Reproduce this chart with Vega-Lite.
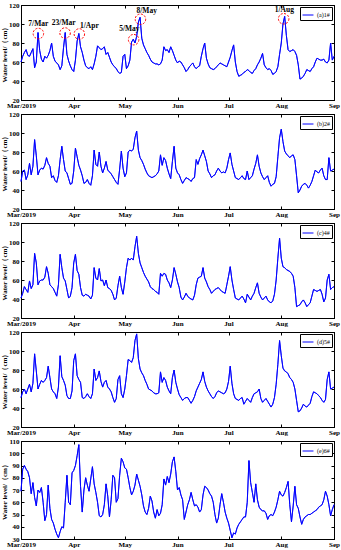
{
"$schema":"https://vega.github.io/schema/vega-lite/v6.json",
"padding":{"left":0,"top":0,"right":1,"bottom":0},
"bounds":"flush",
"spacing":14,
"data":{"values":[
{"t":"2019/3/1","a":60,"b":49,"c":41,"d":51,"e":69},
{"t":"2019/3/2","a":66,"b":60,"c":46,"d":57,"e":87},
{"t":"2019/3/3","a":70,"b":61,"c":53,"d":60,"e":90},
{"t":"2019/3/4","a":73,"b":51,"c":50,"d":55,"e":87},
{"t":"2019/3/5","a":67,"b":56,"c":47,"d":60,"e":85},
{"t":"2019/3/6","a":66,"b":68,"c":59,"d":65,"e":80},
{"t":"2019/3/7","a":70,"b":56,"c":51,"d":57,"e":67},
{"t":"2019/3/8","a":74,"b":65,"c":55,"d":66,"e":76},
{"t":"2019/3/9","a":54,"b":93,"c":88,"d":97,"e":64},
{"t":"2019/3/10","a":60,"b":76,"c":78,"d":79,"e":57},
{"t":"2019/3/11","a":91,"b":56,"c":55,"d":60,"e":70},
{"t":"2019/3/12","a":72,"b":61,"c":59,"d":65,"e":68},
{"t":"2019/3/13","a":63,"b":63,"c":60,"d":69,"e":72},
{"t":"2019/3/14","a":60,"b":62,"c":60,"d":67,"e":60},
{"t":"2019/3/15","a":66,"b":66,"c":63,"d":69,"e":45},
{"t":"2019/3/16","a":64,"b":74,"c":74,"d":72,"e":50},
{"t":"2019/3/17","a":67,"b":68,"c":67,"d":84,"e":74},
{"t":"2019/3/18","a":72,"b":65,"c":55,"d":72,"e":55},
{"t":"2019/3/19","a":80,"b":53,"c":53,"d":60,"e":46},
{"t":"2019/3/20","a":66,"b":55,"c":51,"d":57,"e":43},
{"t":"2019/3/21","a":61,"b":50,"c":47,"d":55,"e":38},
{"t":"2019/3/22","a":59,"b":48,"c":43,"d":50,"e":34},
{"t":"2019/3/23","a":57,"b":55,"c":55,"d":62,"e":31},
{"t":"2019/3/24","a":52,"b":72,"c":87,"d":95,"e":36},
{"t":"2019/3/25","a":56,"b":86,"c":73,"d":73,"e":40},
{"t":"2019/3/26","a":75,"b":72,"c":62,"d":69,"e":39},
{"t":"2019/3/27","a":91,"b":60,"c":59,"d":64,"e":60},
{"t":"2019/3/28","a":68,"b":58,"c":50,"d":53,"e":82},
{"t":"2019/3/29","a":61,"b":52,"c":41,"d":50,"e":60},
{"t":"2019/3/30","a":56,"b":46,"c":43,"d":50,"e":58},
{"t":"2019/3/31","a":52,"b":47,"c":52,"d":58,"e":84},
{"t":"2019/4/1","a":50,"b":60,"c":78,"d":90,"e":86},
{"t":"2019/4/2","a":62,"b":84,"c":87,"d":97,"e":90},
{"t":"2019/4/3","a":82,"b":75,"c":70,"d":74,"e":98},
{"t":"2019/4/4","a":90,"b":66,"c":66,"d":70,"e":107},
{"t":"2019/4/5","a":76,"b":61,"c":52,"d":67,"e":73},
{"t":"2019/4/6","a":70,"b":55,"c":44,"d":51,"e":52},
{"t":"2019/4/7","a":62,"b":47,"c":43,"d":50,"e":70},
{"t":"2019/4/8","a":56,"b":48,"c":45,"d":52,"e":80},
{"t":"2019/4/9","a":54,"b":51,"c":44,"d":55,"e":74},
{"t":"2019/4/10","a":53,"b":47,"c":43,"d":52,"e":69},
{"t":"2019/4/11","a":55,"b":45,"c":40,"d":50,"e":79},
{"t":"2019/4/12","a":52,"b":55,"c":44,"d":55,"e":89},
{"t":"2019/4/13","a":58,"b":82,"c":73,"d":81,"e":75},
{"t":"2019/4/14","a":66,"b":67,"c":62,"d":69,"e":68},
{"t":"2019/4/15","a":77,"b":65,"c":60,"d":72,"e":60},
{"t":"2019/4/16","a":75,"b":80,"c":72,"d":79,"e":49},
{"t":"2019/4/17","a":73,"b":65,"c":59,"d":68,"e":48},
{"t":"2019/4/18","a":74,"b":58,"c":60,"d":62,"e":50},
{"t":"2019/4/19","a":76,"b":63,"c":54,"d":67,"e":58},
{"t":"2019/4/20","a":68,"b":70,"c":60,"d":69,"e":75},
{"t":"2019/4/21","a":70,"b":61,"c":52,"d":62,"e":65},
{"t":"2019/4/22","a":65,"b":59,"c":51,"d":60,"e":48},
{"t":"2019/4/23","a":60,"b":57,"c":49,"d":57,"e":62},
{"t":"2019/4/24","a":57,"b":54,"c":45,"d":51,"e":82},
{"t":"2019/4/25","a":55,"b":51,"c":39,"d":46,"e":80},
{"t":"2019/4/26","a":53,"b":48,"c":41,"d":50,"e":60},
{"t":"2019/4/27","a":50,"b":46,"c":54,"d":70,"e":63},
{"t":"2019/4/28","a":48,"b":62,"c":64,"d":74,"e":82},
{"t":"2019/4/29","a":49,"b":81,"c":52,"d":55,"e":96},
{"t":"2019/4/30","a":66,"b":63,"c":45,"d":51,"e":93},
{"t":"2019/5/1","a":68,"b":54,"c":58,"d":60,"e":88},
{"t":"2019/5/2","a":53,"b":58,"c":73,"d":74,"e":87},
{"t":"2019/5/3","a":56,"b":80,"c":83,"d":91,"e":80},
{"t":"2019/5/4","a":62,"b":82,"c":81,"d":90,"e":72},
{"t":"2019/5/5","a":81,"b":81,"c":83,"d":88,"e":66},
{"t":"2019/5/6","a":84,"b":83,"c":81,"d":93,"e":69},
{"t":"2019/5/7","a":80,"b":95,"c":95,"d":111,"e":74},
{"t":"2019/5/8","a":87,"b":102,"c":106,"d":118,"e":83},
{"t":"2019/5/9","a":102,"b":82,"c":88,"d":92,"e":78},
{"t":"2019/5/10","a":107,"b":74,"c":78,"d":81,"e":73},
{"t":"2019/5/11","a":85,"b":71,"c":73,"d":77,"e":66},
{"t":"2019/5/12","a":78,"b":67,"c":68,"d":74,"e":57},
{"t":"2019/5/13","a":74,"b":62,"c":64,"d":69,"e":52},
{"t":"2019/5/14","a":70,"b":58,"c":61,"d":65,"e":50},
{"t":"2019/5/15","a":67,"b":55,"c":58,"d":60,"e":55},
{"t":"2019/5/16","a":63,"b":54,"c":53,"d":59,"e":65},
{"t":"2019/5/17","a":60,"b":53,"c":51,"d":58,"e":61},
{"t":"2019/5/18","a":59,"b":54,"c":50,"d":56,"e":52},
{"t":"2019/5/19","a":58,"b":55,"c":48,"d":55,"e":47},
{"t":"2019/5/20","a":58,"b":57,"c":47,"d":55,"e":54},
{"t":"2019/5/21","a":57,"b":60,"c":45,"d":56,"e":49},
{"t":"2019/5/22","a":58,"b":77,"c":67,"d":78,"e":51},
{"t":"2019/5/23","a":62,"b":66,"c":64,"d":67,"e":58},
{"t":"2019/5/24","a":76,"b":74,"c":67,"d":72,"e":79},
{"t":"2019/5/25","a":72,"b":71,"c":66,"d":69,"e":74},
{"t":"2019/5/26","a":73,"b":63,"c":60,"d":62,"e":81},
{"t":"2019/5/27","a":70,"b":57,"c":57,"d":58,"e":76},
{"t":"2019/5/28","a":76,"b":52,"c":52,"d":55,"e":83},
{"t":"2019/5/29","a":72,"b":70,"c":60,"d":72,"e":93},
{"t":"2019/5/30","a":67,"b":86,"c":73,"d":80,"e":97},
{"t":"2019/5/31","a":62,"b":63,"c":66,"d":67,"e":85},
{"t":"2019/6/1","a":59,"b":58,"c":58,"d":60,"e":70},
{"t":"2019/6/2","a":61,"b":56,"c":52,"d":54,"e":72},
{"t":"2019/6/3","a":60,"b":51,"c":42,"d":51,"e":66},
{"t":"2019/6/4","a":57,"b":47,"c":39,"d":48,"e":62},
{"t":"2019/6/5","a":54,"b":50,"c":42,"d":50,"e":46},
{"t":"2019/6/6","a":50,"b":53,"c":46,"d":51,"e":52},
{"t":"2019/6/7","a":52,"b":52,"c":43,"d":51,"e":58},
{"t":"2019/6/8","a":55,"b":51,"c":41,"d":48,"e":62},
{"t":"2019/6/9","a":57,"b":49,"c":40,"d":45,"e":68},
{"t":"2019/6/10","a":59,"b":52,"c":39,"d":48,"e":62},
{"t":"2019/6/11","a":55,"b":53,"c":44,"d":52,"e":57},
{"t":"2019/6/12","a":53,"b":72,"c":55,"d":58,"e":58},
{"t":"2019/6/13","a":55,"b":67,"c":62,"d":62,"e":56},
{"t":"2019/6/14","a":56,"b":73,"c":63,"d":66,"e":52},
{"t":"2019/6/15","a":66,"b":77,"c":64,"d":70,"e":54},
{"t":"2019/6/16","a":74,"b":82,"c":73,"d":78,"e":66},
{"t":"2019/6/17","a":80,"b":76,"c":62,"d":68,"e":73},
{"t":"2019/6/18","a":64,"b":70,"c":58,"d":62,"e":72},
{"t":"2019/6/19","a":58,"b":60,"c":53,"d":58,"e":70},
{"t":"2019/6/20","a":54,"b":57,"c":50,"d":55,"e":67},
{"t":"2019/6/21","a":53,"b":53,"c":46,"d":52,"e":65},
{"t":"2019/6/22","a":52,"b":55,"c":48,"d":50,"e":60},
{"t":"2019/6/23","a":53,"b":56,"c":50,"d":52,"e":50},
{"t":"2019/6/24","a":55,"b":60,"c":51,"d":56,"e":43},
{"t":"2019/6/25","a":57,"b":63,"c":52,"d":58,"e":47},
{"t":"2019/6/26","a":59,"b":60,"c":50,"d":57,"e":58},
{"t":"2019/6/27","a":58,"b":58,"c":48,"d":56,"e":67},
{"t":"2019/6/28","a":57,"b":59,"c":47,"d":55,"e":60},
{"t":"2019/6/29","a":56,"b":58,"c":46,"d":56,"e":52},
{"t":"2019/6/30","a":55,"b":63,"c":55,"d":60,"e":47},
{"t":"2019/7/1","a":60,"b":72,"c":64,"d":68,"e":43},
{"t":"2019/7/2","a":65,"b":79,"c":74,"d":84,"e":37},
{"t":"2019/7/3","a":72,"b":67,"c":60,"d":66,"e":31},
{"t":"2019/7/4","a":78,"b":60,"c":50,"d":55,"e":35},
{"t":"2019/7/5","a":60,"b":53,"c":41,"d":50,"e":34},
{"t":"2019/7/6","a":50,"b":52,"c":40,"d":49,"e":39},
{"t":"2019/7/7","a":45,"b":51,"c":39,"d":48,"e":42},
{"t":"2019/7/8","a":46,"b":53,"c":41,"d":50,"e":44},
{"t":"2019/7/9","a":47,"b":55,"c":43,"d":51,"e":46},
{"t":"2019/7/10","a":49,"b":52,"c":40,"d":44,"e":48},
{"t":"2019/7/11","a":50,"b":51,"c":36,"d":47,"e":48},
{"t":"2019/7/12","a":52,"b":60,"c":45,"d":50,"e":60},
{"t":"2019/7/13","a":51,"b":51,"c":42,"d":48,"e":94},
{"t":"2019/7/14","a":49,"b":53,"c":39,"d":46,"e":76},
{"t":"2019/7/15","a":48,"b":55,"c":43,"d":51,"e":68},
{"t":"2019/7/16","a":51,"b":62,"c":46,"d":55,"e":60},
{"t":"2019/7/17","a":53,"b":68,"c":52,"d":56,"e":75},
{"t":"2019/7/18","a":57,"b":77,"c":57,"d":57,"e":62},
{"t":"2019/7/19","a":60,"b":65,"c":46,"d":60,"e":56},
{"t":"2019/7/20","a":64,"b":58,"c":42,"d":50,"e":54},
{"t":"2019/7/21","a":69,"b":54,"c":39,"d":46,"e":53},
{"t":"2019/7/22","a":57,"b":51,"c":41,"d":48,"e":53},
{"t":"2019/7/23","a":54,"b":53,"c":43,"d":50,"e":51},
{"t":"2019/7/24","a":52,"b":55,"c":39,"d":47,"e":46},
{"t":"2019/7/25","a":53,"b":48,"c":37,"d":44,"e":49},
{"t":"2019/7/26","a":51,"b":44,"c":36,"d":41,"e":50},
{"t":"2019/7/27","a":47,"b":46,"c":38,"d":44,"e":49},
{"t":"2019/7/28","a":48,"b":47,"c":45,"d":51,"e":52},
{"t":"2019/7/29","a":50,"b":54,"c":60,"d":65,"e":56},
{"t":"2019/7/30","a":55,"b":75,"c":83,"d":86,"e":62},
{"t":"2019/7/31","a":68,"b":95,"c":104,"d":111,"e":69},
{"t":"2019/8/1","a":80,"b":104,"c":83,"d":95,"e":66},
{"t":"2019/8/2","a":100,"b":91,"c":74,"d":82,"e":65},
{"t":"2019/8/3","a":108,"b":81,"c":73,"d":79,"e":68},
{"t":"2019/8/4","a":88,"b":78,"c":71,"d":78,"e":72},
{"t":"2019/8/5","a":73,"b":76,"c":70,"d":76,"e":77},
{"t":"2019/8/6","a":71,"b":74,"c":69,"d":72,"e":58},
{"t":"2019/8/7","a":72,"b":76,"c":67,"d":70,"e":44},
{"t":"2019/8/8","a":73,"b":77,"c":64,"d":67,"e":57},
{"t":"2019/8/9","a":71,"b":72,"c":52,"d":60,"e":73},
{"t":"2019/8/10","a":67,"b":55,"c":32,"d":48,"e":58},
{"t":"2019/8/11","a":57,"b":37,"c":33,"d":36,"e":55},
{"t":"2019/8/12","a":42,"b":40,"c":34,"d":37,"e":48},
{"t":"2019/8/13","a":43,"b":44,"c":37,"d":40,"e":42},
{"t":"2019/8/14","a":45,"b":46,"c":39,"d":44,"e":46},
{"t":"2019/8/15","a":48,"b":47,"c":36,"d":42,"e":48},
{"t":"2019/8/16","a":52,"b":45,"c":32,"d":41,"e":49},
{"t":"2019/8/17","a":51,"b":42,"c":34,"d":43,"e":50},
{"t":"2019/8/18","a":50,"b":45,"c":36,"d":45,"e":50},
{"t":"2019/8/19","a":53,"b":49,"c":43,"d":52,"e":51},
{"t":"2019/8/20","a":55,"b":55,"c":50,"d":57,"e":52},
{"t":"2019/8/21","a":60,"b":61,"c":49,"d":56,"e":53},
{"t":"2019/8/22","a":64,"b":59,"c":48,"d":55,"e":54},
{"t":"2019/8/23","a":63,"b":58,"c":49,"d":53,"e":56},
{"t":"2019/8/24","a":62,"b":61,"c":50,"d":51,"e":57},
{"t":"2019/8/25","a":62,"b":63,"c":45,"d":48,"e":58},
{"t":"2019/8/26","a":63,"b":55,"c":37,"d":46,"e":62},
{"t":"2019/8/27","a":60,"b":51,"c":41,"d":49,"e":69},
{"t":"2019/8/28","a":59,"b":51,"c":60,"d":70,"e":65},
{"t":"2019/8/29","a":62,"b":74,"c":66,"d":78,"e":58},
{"t":"2019/8/30","a":80,"b":60,"c":50,"d":60,"e":49},
{"t":"2019/8/31","a":62,"b":61,"c":52,"d":61,"e":54},
{"t":"2019/9/1","a":66,"b":62,"c":53,"d":62,"e":58}
]},
"resolve":{"scale":{"color":"independent"},"legend":{"color":"independent"}},
"vconcat":[
{"width":313,"height":95,
 "resolve":{"axis":{"x":"independent","y":"independent"}},
 "layer":[
  {"mark":{"type":"line","strokeWidth":0.9},
   "encoding":{
    "x":{"field":"t","type":"temporal","scale":{"domain":[{"year":2019,"month":3,"date":1},{"year":2019,"month":9,"date":1}],"nice":false},
         "axis":{"title":null,"labelPadding":4,"tickCount":{"interval":"month","step":1},"labelFlush":false,"labelOverlap":false,"labelExpr":"month(datum.value)==2 ? 'Mar/2019' : timeFormat(datum.value,'%b')"}},
    "y":{"field":"a","type":"quantitative","scale":{"domain":[20,120],"nice":false},"axis":{"values":[20,40,60,80,100,120],"title":"Water level/（cm）"}},
    "color":{"datum":"(a)1#","type":"nominal","scale":{"range":["#0000ff"]}}}},
  {"mark":{"type":"line","strokeWidth":0.9,"color":"#0000ff"},
   "encoding":{
    "x":{"field":"t","type":"temporal","axis":{"orient":"top","labels":false,"title":null,"tickCount":{"interval":"month","step":1}}},
    "y":{"field":"a","type":"quantitative","axis":{"orient":"right","labels":false,"title":null,"values":[20,40,60,80,100,120]}}}},
  {"data":{"values":[
    {"t":"2019/3/11 05:00","v":90},
    {"t":"2019/3/26 22:00","v":90.5},
    {"t":"2019/4/4 07:00","v":89.5},
    {"t":"2019/5/6 05:00","v":83.5},
    {"t":"2019/5/10 05:00","v":105},
    {"t":"2019/8/2 10:00","v":105.5}]},
   "mark":{"type":"point","shape":"circle","filled":false,"color":"#ff0000","strokeWidth":1,"strokeDash":[2,1.5],"size":110,"opacity":1},
   "encoding":{"x":{"field":"t","type":"temporal","axis":null},"y":{"field":"v","type":"quantitative","axis":null}}},
  {"data":{"values":[
    {"t":"2019/3/11 05:00","v":100.5,"label":"7/Mar"},
    {"t":"2019/3/26 02:00","v":101,"label":"23/Mar"},
    {"t":"2019/4/10 05:00","v":97.5,"label":"1/Apr"},
    {"t":"2019/5/3 17:00","v":94.5,"label":"5/May"},
    {"t":"2019/5/13 22:00","v":113.5,"label":"8/May"},
    {"t":"2019/8/2 19:00","v":115,"label":"1/Aug"}]},
   "mark":{"type":"text","font":"Liberation Serif","fontWeight":"bold","fontSize":7.5,"color":"black"},
   "encoding":{"x":{"field":"t","type":"temporal","axis":null},"y":{"field":"v","type":"quantitative","axis":null},"text":{"field":"label"}}}
 ]},
{"width":313,"height":95,
 "resolve":{"axis":{"x":"independent","y":"independent"}},
 "layer":[
  {"mark":{"type":"line","strokeWidth":0.9},
   "encoding":{
    "x":{"field":"t","type":"temporal","scale":{"domain":[{"year":2019,"month":3,"date":1},{"year":2019,"month":9,"date":1}],"nice":false},
         "axis":{"title":null,"labelPadding":4,"tickCount":{"interval":"month","step":1},"labelFlush":false,"labelOverlap":false,"labelExpr":"month(datum.value)==2 ? 'Mar/2019' : timeFormat(datum.value,'%b')"}},
    "y":{"field":"b","type":"quantitative","scale":{"domain":[20,120],"nice":false},"axis":{"values":[20,40,60,80,100,120],"title":"Water level/（cm）"}},
    "color":{"datum":"(b)2#","type":"nominal","scale":{"range":["#0000ff"]}}}},
  {"mark":{"type":"line","strokeWidth":0.9,"color":"#0000ff"},
   "encoding":{
    "x":{"field":"t","type":"temporal","axis":{"orient":"top","labels":false,"title":null,"tickCount":{"interval":"month","step":1}}},
    "y":{"field":"b","type":"quantitative","axis":{"orient":"right","labels":false,"title":null,"values":[20,40,60,80,100,120]}}}}
 ]},
{"width":313,"height":95,
 "resolve":{"axis":{"x":"independent","y":"independent"}},
 "layer":[
  {"mark":{"type":"line","strokeWidth":0.9},
   "encoding":{
    "x":{"field":"t","type":"temporal","scale":{"domain":[{"year":2019,"month":3,"date":1},{"year":2019,"month":9,"date":1}],"nice":false},
         "axis":{"title":null,"labelPadding":4,"tickCount":{"interval":"month","step":1},"labelFlush":false,"labelOverlap":false,"labelExpr":"month(datum.value)==2 ? 'Mar/2019' : timeFormat(datum.value,'%b')"}},
    "y":{"field":"c","type":"quantitative","scale":{"domain":[20,120],"nice":false},"axis":{"values":[20,40,60,80,100,120],"title":"Water level/（cm）"}},
    "color":{"datum":"(c)4#","type":"nominal","scale":{"range":["#0000ff"]}}}},
  {"mark":{"type":"line","strokeWidth":0.9,"color":"#0000ff"},
   "encoding":{
    "x":{"field":"t","type":"temporal","axis":{"orient":"top","labels":false,"title":null,"tickCount":{"interval":"month","step":1}}},
    "y":{"field":"c","type":"quantitative","axis":{"orient":"right","labels":false,"title":null,"values":[20,40,60,80,100,120]}}}}
 ]},
{"width":313,"height":95,
 "resolve":{"axis":{"x":"independent","y":"independent"}},
 "layer":[
  {"mark":{"type":"line","strokeWidth":0.9},
   "encoding":{
    "x":{"field":"t","type":"temporal","scale":{"domain":[{"year":2019,"month":3,"date":1},{"year":2019,"month":9,"date":1}],"nice":false},
         "axis":{"title":null,"labelPadding":4,"tickCount":{"interval":"month","step":1},"labelFlush":false,"labelOverlap":false,"labelExpr":"month(datum.value)==2 ? 'Mar/2019' : timeFormat(datum.value,'%b')"}},
    "y":{"field":"d","type":"quantitative","scale":{"domain":[20,120],"nice":false},"axis":{"values":[20,40,60,80,100,120],"title":"Water level/（cm）"}},
    "color":{"datum":"(d)5#","type":"nominal","scale":{"range":["#0000ff"]}}}},
  {"mark":{"type":"line","strokeWidth":0.9,"color":"#0000ff"},
   "encoding":{
    "x":{"field":"t","type":"temporal","axis":{"orient":"top","labels":false,"title":null,"tickCount":{"interval":"month","step":1}}},
    "y":{"field":"d","type":"quantitative","axis":{"orient":"right","labels":false,"title":null,"values":[20,40,60,80,100,120]}}}}
 ]},
{"width":313,"height":98,
 "resolve":{"axis":{"x":"independent","y":"independent"}},
 "layer":[
  {"mark":{"type":"line","strokeWidth":0.9},
   "encoding":{
    "x":{"field":"t","type":"temporal","scale":{"domain":[{"year":2019,"month":3,"date":1},{"year":2019,"month":9,"date":1}],"nice":false},
         "axis":{"title":null,"labelPadding":4,"tickCount":{"interval":"month","step":1},"labelFlush":false,"labelOverlap":false,"labelExpr":"month(datum.value)==2 ? 'Mar/2019' : timeFormat(datum.value,'%b')"}},
    "y":{"field":"e","type":"quantitative","scale":{"domain":[30,110],"nice":false},"axis":{"values":[30,40,50,60,70,80,90,100,110],"title":"Water level/（cm）"}},
    "color":{"datum":"(e)6#","type":"nominal","scale":{"range":["#0000ff"]}}}},
  {"mark":{"type":"line","strokeWidth":0.9,"color":"#0000ff"},
   "encoding":{
    "x":{"field":"t","type":"temporal","axis":{"orient":"top","labels":false,"title":null,"tickCount":{"interval":"month","step":1}}},
    "y":{"field":"e","type":"quantitative","axis":{"orient":"right","labels":false,"title":null,"values":[30,40,50,60,70,80,90,100,110]}}}}
 ]}
],
"config":{
 "font":"Liberation Serif",
 "view":{"stroke":"black","strokeWidth":1},
 "axis":{"labelFont":"Liberation Serif","labelFontSize":7,"labelColor":"black","labelFontWeight":"bold","titleFont":"Liberation Serif","titleFontSize":7,"titleFontWeight":"bold","titleColor":"black","titlePadding":1,"domainColor":"black","domainWidth":1,"tickColor":"black","tickSize":-3,"tickWidth":1,"labelPadding":5,"grid":false},
 "legend":{"orient":"top-right","offset":2,"title":null,"symbolType":"stroke","symbolStrokeWidth":1,"symbolSize":120,"labelFont":"Liberation Serif","labelFontSize":6,"labelColor":"black","strokeColor":"black","fillColor":"white","padding":2,"labelOffset":3,"rowPadding":0,"cornerRadius":0}
}
}
